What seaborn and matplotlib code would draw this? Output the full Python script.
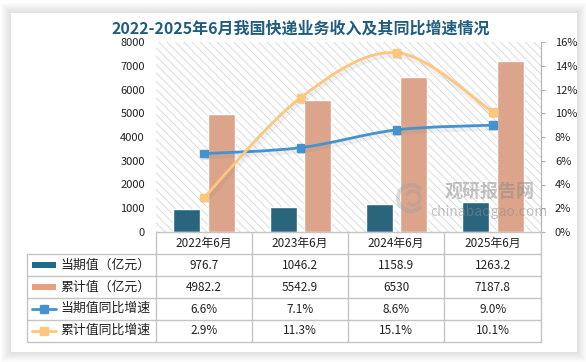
import numpy as np
import pandas as pd
import matplotlib
matplotlib.use("Agg")
import matplotlib.pyplot as plt
import seaborn as sns
from matplotlib.patches import Rectangle, PathPatch, Arc
from matplotlib.path import Path
from matplotlib.lines import Line2D
import matplotlib.patheffects as pe

# data
categories = ["2022年6月", "2023年6月", "2024年6月", "2025年6月"]
period_value = [976.7, 1046.2, 1158.9, 1263.2]        # 当期值（亿元）
cum_value = [4982.2, 5542.9, 6530, 7187.8]            # 累计值（亿元）
period_growth = [6.6, 7.1, 8.6, 9.0]                  # 当期值同比增速 %
cum_growth = [2.9, 11.3, 15.1, 10.1]                  # 累计值同比增速 %
row_names = ["当期值（亿元）", "累计值（亿元）", "当期值同比增速", "累计值同比增速"]
title = "2022-2025年6月我国快递业务收入及其同比增速情况"

BLUE = "#1c6b8c"
ORANGE = "#e9a07e"
LBLUE = "#4493cf"
LORANGE = "#ffc67c"
GRID = "#c4c4c4"

sns.set_theme(style="white")
plt.rcParams["font.family"] = ["Noto Sans CJK SC", "DejaVu Sans"]
plt.rcParams["hatch.color"] = "#d6d6d6"
plt.rcParams["hatch.linewidth"] = 0.6

W, H = 586, 362
fig = plt.figure(figsize=(W / 100, H / 100), dpi=100)
fig.patch.set_facecolor("white")

# card with soft shadow
bg = fig.add_axes([0, 0, 1, 1], zorder=0)
bg.set_xlim(0, W)
bg.set_ylim(H, 0)
bg.axis("off")
for i in range(10, 0, -1):
    bg.add_patch(Rectangle((11 - i, 13 - i), 566 + 2 * i, 339 + 2 * i,
                           facecolor="#808080", alpha=0.018, linewidth=0))
bg.add_patch(Rectangle((11, 13), 566, 339, facecolor="white", linewidth=0))

# main plot area
L, R, T, B = 156, 541, 42, 232
ax = fig.add_axes([L / W, 1 - B / H, (R - L) / W, (B - T) / H], zorder=1)
ax.patch.set_alpha(0)
ax.add_patch(Rectangle((0, 0), 1, 1, transform=ax.transAxes, facecolor="white",
                       hatch="\\\\\\\\", edgecolor="#d6d6d6", linewidth=0, zorder=0))

df = pd.DataFrame({
    "cat": categories * 2,
    "series": [row_names[0]] * 4 + [row_names[1]] * 4,
    "val": period_value + cum_value,
})
sns.barplot(data=df, x="cat", y="val", hue="series", palette=[BLUE, ORANGE],
            width=0.72, gap=0.22, edgecolor="white", linewidth=1,
            legend=False, ax=ax, zorder=2)
ax.set_xlim(-0.5, 3.5)
ax.set_ylim(0, 8000)
ax.set_yticks(range(0, 8001, 1000))
ax.set_xticks([])
ax.set_xlabel("")
ax.set_ylabel("")
ax.tick_params(axis="y", length=0, pad=8, labelsize=8, labelcolor="#222222")
for s in ax.spines.values():
    s.set_visible(False)

ax2 = ax.twinx()
ax2.set_zorder(2)
ax2.patch.set_visible(False)
ax2.set_ylim(0, 16)
ax2.set_yticks(range(0, 17, 2))
ax2.set_yticklabels([f"{v}%" for v in range(0, 17, 2)])
ax2.tick_params(axis="y", direction="out", length=3, width=0.8, color="#b0b0b0",
                pad=7, labelsize=8, labelcolor="#222222")
for k, s in ax2.spines.items():
    s.set_visible(k == "right")
ax2.spines["right"].set_color("#b0b0b0")
ax2.spines["right"].set_linewidth(0.8)


def smooth_path(xs, ys):
    pts = np.column_stack([xs, ys]).astype(float)
    n = len(pts)
    verts = [pts[0]]
    codes = [Path.MOVETO]
    for i in range(n - 1):
        p0 = pts[max(i - 1, 0)]
        p1 = pts[i]
        p2 = pts[i + 1]
        p3 = pts[min(i + 2, n - 1)]
        verts += [p1 + (p2 - p0) / 6, p2 - (p3 - p1) / 6, p2]
        codes += [Path.CURVE4] * 3
    return Path(verts, codes)


xs = np.arange(len(categories))
shadow = [pe.SimpleLineShadow(offset=(1, -1.5), shadow_color="#666666", alpha=0.09,
                              linewidth=5), pe.Normal()]
for vals, col in [(period_growth, LBLUE), (cum_growth, LORANGE)]:
    patch = PathPatch(smooth_path(xs, vals), facecolor="none", edgecolor=col,
                      linewidth=2, zorder=3)
    patch.set_path_effects(shadow)
    ax2.add_patch(patch)
    ax2.plot(xs, vals, linestyle="none", marker="s", markersize=5.5, color=col,
             zorder=4, path_effects=[pe.SimplePatchShadow(offset=(1, -1.5),
                                                          alpha=0.12), pe.Normal()])

# overlay: title, table, watermark
fa = fig.add_axes([0, 0, 1, 1], zorder=3)
fa.set_xlim(0, W)
fa.set_ylim(H, 0)
fa.axis("off")

fa.text(301, 29, title, ha="center", va="center", fontsize=11.5, fontweight="bold",
        color="#1f5c7d")

col_edges = [L, 252, 348, 444.3, R]
row_edges = [B, 254, 276, 298, 319.5, 341.5]
tleft = 27.3
lw = 1
for y in row_edges[1:]:
    fa.plot([tleft, R], [y, y], color=GRID, lw=lw, zorder=1)
fa.plot([L, R], [B, B], color=GRID, lw=lw, zorder=1)
fa.plot([tleft, tleft], [row_edges[1], row_edges[-1]], color=GRID, lw=lw)
for x in col_edges:
    fa.plot([x, x], [B, row_edges[-1]], color=GRID, lw=lw)

centers = [(col_edges[i] + col_edges[i + 1]) / 2 for i in range(4)]
for cx, c in zip(centers, categories):
    fa.text(cx, (row_edges[0] + row_edges[1]) / 2 + 0.5, c, ha="center", va="center",
            fontsize=8.5, color="#222222")

table_rows = [
    [f"{v:g}" for v in period_value],
    [f"{v:g}" for v in cum_value],
    [f"{v:.1f}%" for v in period_growth],
    [f"{v:.1f}%" for v in cum_growth],
]
for r, (name, vals) in enumerate(zip(row_names, table_rows)):
    cy = (row_edges[r + 1] + row_edges[r + 2]) / 2
    fa.text(60, cy, name, ha="left", va="center", fontsize=9.3, color="#222222")
    for cx, v in zip(centers, vals):
        fa.text(cx, cy + 0.5, v, ha="center", va="center", fontsize=8.5, color="#222222")
    if r == 0:
        fa.add_patch(Rectangle((32, cy - 3), 24, 6, facecolor=BLUE, linewidth=0))
    elif r == 1:
        fa.add_patch(Rectangle((32, cy - 3), 24, 6, facecolor=ORANGE, linewidth=0))
    else:
        col = LBLUE if r == 2 else LORANGE
        fa.add_line(Line2D([32, 56], [cy, cy], color=col, lw=2))
        fa.add_line(Line2D([44], [cy], marker="s", markersize=5.5, color=col))

# watermark
fa.add_patch(Arc((411, 198), 26, 26, theta1=40, theta2=320, color="#9a9a9a",
                 lw=3, alpha=0.35))
fa.add_patch(Arc((413, 198), 14, 14, theta1=200, theta2=500, color="#9a9a9a",
                 lw=2.5, alpha=0.35))
fa.text(490, 191, "观研报告网", ha="center", va="center", fontsize=13,
        fontweight="bold", color="#8a8a8a", alpha=0.5)
fa.text(489, 212, "chinabaogao.com", ha="center", va="center", fontsize=10,
        color="#8a8a8a", alpha=0.5)

fig.savefig("out.png", dpi=100, facecolor="white")
